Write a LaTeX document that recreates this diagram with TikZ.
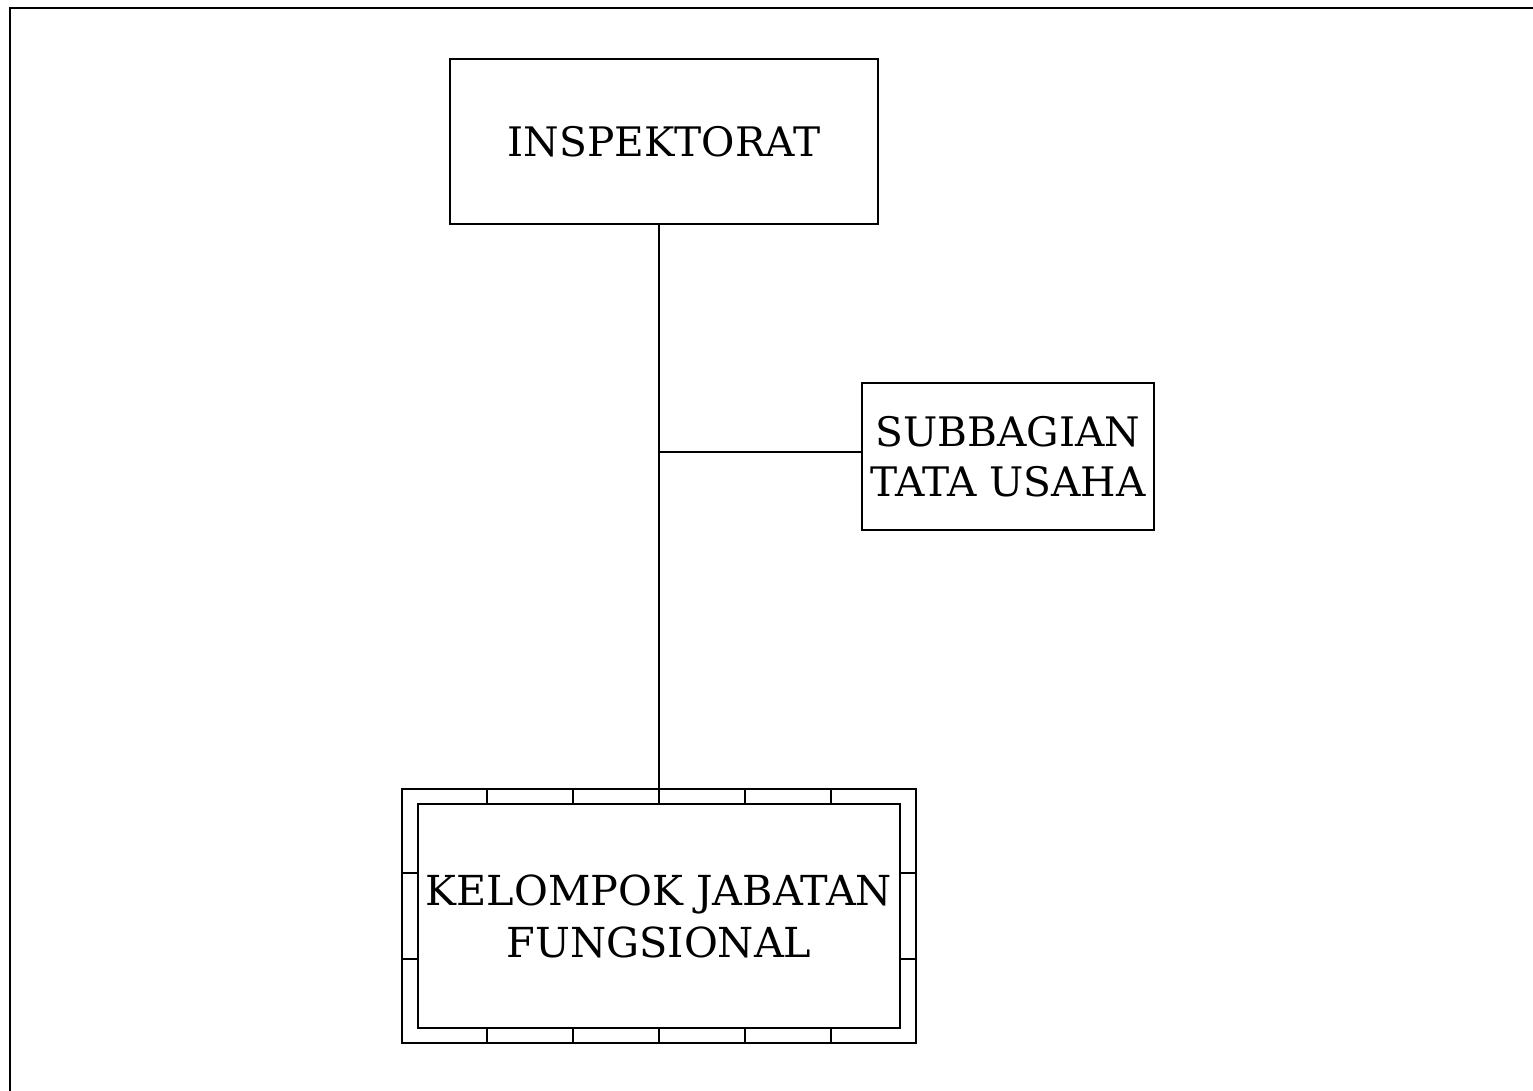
\documentclass[tikz,border=0pt]{standalone}
\usepackage{fontspec}
\setmainfont{DejaVu Serif}
\usetikzlibrary{calc}
\begin{document}
\begin{tikzpicture}[x=0.75pt,y=-0.75pt,
  line width=1.5pt,
  unit/.style={draw,inner sep=0pt,align=center,font=\fontsize{30.5}{37.5}\selectfont},
  band/.style={draw,inner sep=0pt}]
\useasboundingbox (0,0) rectangle (1533,1090);
\clip (0,0) rectangle (1533,1090);
% page frame, running off the right and bottom edges
\draw (10,8) rectangle (1560,1120);

% units
\node[unit,minimum width=321pt,minimum height=123.75pt] (insp) at (664,141.5) {INSPEKTORAT};
\node[unit,minimum width=219pt,minimum height=110.25pt] (sub) at (1008,456.5) {SUBBAGIAN\\TATA USAHA};
\node[band,minimum width=385.5pt,minimum height=190.5pt] (kjfout) at (659,916) {};
\node[unit,minimum width=361.5pt,minimum height=168pt,font=\fontsize{31}{39}\selectfont] (kjf) at (659,916) {KELOMPOK JABATAN\\FUNGSIONAL};

% segments of the outer band
\foreach \k in {1,...,5}{
  \coordinate (tp) at ($(kjfout.north west)!\k/6!(kjfout.north east)$);
  \draw (tp) -- (tp |- kjf.north);
  \coordinate (bp) at ($(kjfout.south west)!\k/6!(kjfout.south east)$);
  \draw (bp) -- (bp |- kjf.south);
}
\foreach \k in {1,2}{
  \coordinate (lp) at ($(kjfout.north west)!\k/3!(kjfout.south west)$);
  \draw (lp) -- (lp -| kjf.west);
  \coordinate (rp) at ($(kjfout.north east)!\k/3!(kjfout.south east)$);
  \draw (rp) -- (rp -| kjf.east);
}

% connectors
\coordinate (j) at (659,452);
\draw (insp.south -| j) -- (kjfout.north);
\draw (j) -- (j -| sub.west);
\end{tikzpicture}
\end{document}
